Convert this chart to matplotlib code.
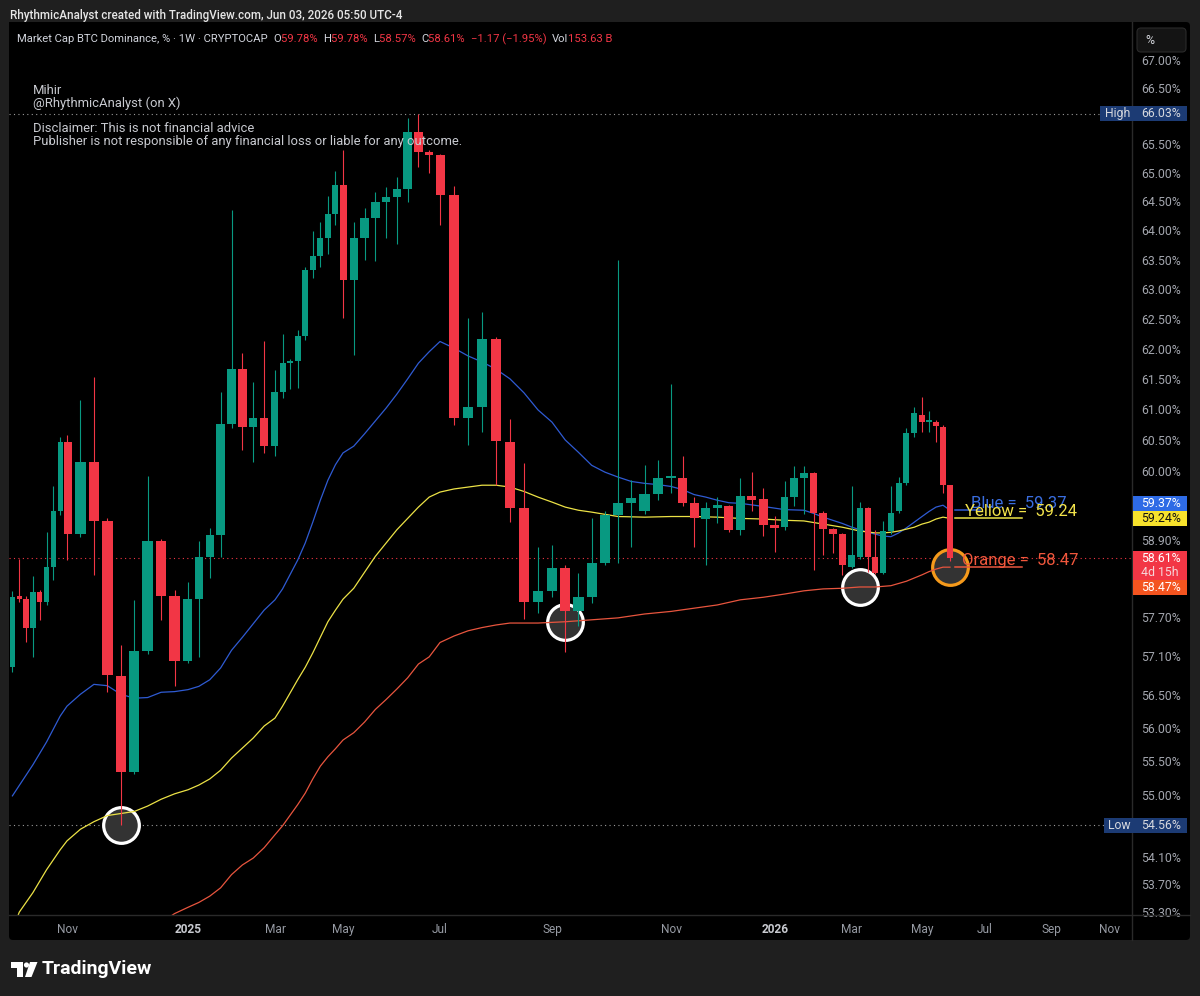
import numpy as np
import pandas as pd
import matplotlib
matplotlib.use("Agg")
import matplotlib.pyplot as plt
import matplotlib.ticker as mticker
from matplotlib.patches import Rectangle, FancyBboxPatch, Polygon, Circle
from matplotlib.lines import Line2D
from matplotlib.transforms import IdentityTransform

plt.rcParams['font.family'] = ['Roboto', 'DejaVu Sans']

# weekly candles, BTC dominance (%)
weeks = pd.date_range('2024-09-09', periods=91, freq='W-MON')
opens = [56.92, 58.02, 57.98, 57.52, 58.08, 57.92, 58.47, 59.36, 60.47, 58.99,
         60.14, 59.20, 56.79, 55.35, 57.17, 58.88, 58.02, 57.02, 57.98, 58.63,
         58.98, 60.76, 61.66, 60.71, 60.86, 60.40, 61.28, 61.76, 61.80, 62.21,
         63.32, 63.56, 63.87, 64.28, 64.78, 63.15, 63.87, 64.21, 64.49, 64.58,
         64.71, 65.71, 65.36, 65.31, 64.61, 60.86, 61.04, 62.16, 60.46, 59.40,
         57.93, 58.10, 58.46, 57.78, 58.00, 58.54, 59.30, 59.48, 59.36, 59.63,
         59.89, 59.89, 59.48, 59.23, 59.40, 59.43, 59.06, 59.60, 59.55, 59.13,
         59.10, 59.58, 59.88, 59.96, 59.33, 59.07, 58.99, 58.48, 58.63, 59.40,
         58.63, 58.38, 59.04, 59.35, 59.81, 60.61, 60.90, 60.80, 60.80, 60.71,
         59.78]
highs = [58.10, 58.60, 58.02, 58.33, 58.12, 59.02, 59.75, 60.55, 60.58, 61.15,
         61.53, 59.25, 57.26, 57.95, 59.91, 58.92, 58.12, 58.24, 58.88, 59.09,
         61.29, 64.35, 61.93, 61.45, 62.13, 61.64, 62.24, 61.83, 62.31, 63.37,
         63.99, 64.14, 64.59, 65.03, 65.39, 64.14, 64.39, 64.66, 64.75, 64.92,
         65.96, 66.03, 65.40, 65.33, 64.76, 62.51, 62.61, 62.20, 60.84, 60.12,
         58.79, 58.82, 58.51, 58.38, 59.24, 59.35, 63.49, 59.86, 60.09, 60.17,
         61.41, 60.24, 59.58, 59.50, 59.58, 59.45, 59.89, 59.98, 59.73, 59.28,
         59.84, 60.08, 60.08, 59.99, 59.35, 59.09, 59.01, 59.75, 59.50, 59.42,
         59.06, 59.20, 59.75, 59.90, 60.70, 61.03, 61.20, 60.97, 60.83, 60.75,
         59.78]
lows = [56.85, 57.93, 57.31, 57.07, 57.65, 57.88, 58.27, 59.30, 58.58, 58.95,
        58.35, 56.55, 54.56, 55.31, 57.12, 57.65, 56.63, 56.98, 57.07, 58.30,
        58.63, 60.70, 60.34, 60.14, 60.29, 60.24, 61.18, 61.33, 61.35, 62.15,
        63.18, 63.37, 63.60, 64.09, 62.51, 61.90, 63.50, 63.47, 63.87, 63.76,
        64.49, 65.10, 65.00, 64.09, 60.74, 60.42, 60.63, 59.77, 59.18, 57.67,
        57.76, 58.00, 57.16, 57.56, 57.91, 58.50, 58.54, 58.79, 59.31, 59.53,
        59.64, 59.44, 58.79, 58.51, 59.16, 59.03, 58.98, 59.36, 58.96, 58.71,
        59.05, 59.44, 59.31, 58.43, 58.66, 58.70, 58.35, 58.45, 58.60, 58.40,
        58.36, 58.36, 59.00, 59.32, 59.78, 60.55, 60.63, 60.63, 60.47, 59.65,
        58.57]
closes = [58.00, 57.97, 57.52, 58.08, 57.92, 58.47, 59.36, 60.47, 58.99, 60.14,
          59.20, 56.80, 55.35, 57.17, 58.88, 58.02, 57.02, 57.98, 58.63, 58.98,
          60.76, 61.66, 60.71, 60.86, 60.40, 61.28, 61.76, 61.80, 62.21, 63.32,
          63.56, 63.87, 64.28, 64.78, 63.15, 63.87, 64.21, 64.49, 64.58, 64.71,
          65.71, 65.36, 65.31, 64.61, 60.86, 61.04, 62.16, 60.48, 59.40, 57.93,
          58.10, 58.46, 57.78, 58.00, 58.54, 59.30, 59.48, 59.57, 59.63, 59.89,
          59.92, 59.49, 59.25, 59.40, 59.45, 59.06, 59.60, 59.53, 59.13, 59.09,
          59.58, 59.88, 59.96, 59.33, 59.07, 58.99, 58.51, 58.66, 59.40, 58.63,
          58.38, 59.04, 59.33, 59.81, 60.61, 60.94, 60.80, 60.83, 60.72, 59.78,
          58.61]

# header values of the current bar
chg_abs = -1.17
chg_pct = -1.95
volume_text = "153.63 B"

# moving averages (week index -> value)
blue_at = [0, 3, 5, 7, 8, 9, 10, 11, 12, 13, 14, 15, 16, 17, 18, 19, 20, 21, 22,
           24, 25, 26, 28, 29, 30, 31, 32, 33, 34, 35, 36, 37, 38, 39, 40, 41, 42,
           43, 44, 45, 46, 47, 48, 49, 50, 51, 52, 53, 54, 55, 56, 57, 58, 59, 60,
           61, 62, 63, 64, 65, 66, 68, 70, 72, 73, 74, 76, 77, 78, 79, 80, 81, 82,
           83, 84, 85, 86, 87, 88, 89, 90]
blue_vals = [54.99, 55.45, 55.79, 56.18, 56.33, 56.51, 56.66, 56.64, 56.51, 56.45,
             56.46, 56.54, 56.55, 56.58, 56.63, 56.73, 56.91, 57.18, 57.38,
             57.80, 57.96, 58.13, 58.58, 58.85, 59.18, 59.53, 59.85, 60.10, 60.29,
             60.40, 60.60, 60.81, 61.02, 61.25, 61.50, 61.76, 61.95,
             62.12, 62.01, 61.88, 61.78, 61.66, 61.50, 61.27, 60.99, 60.79, 60.50,
             60.30, 60.09, 59.98, 59.90, 59.83, 59.80, 59.78, 59.75,
             59.70, 59.62, 59.58, 59.53, 59.49, 59.48, 59.43, 59.38, 59.37, 59.32,
             59.26, 59.16, 59.10, 59.06, 59.02, 58.99, 58.96, 58.95,
             59.01, 59.09, 59.18, 59.27, 59.35, 59.42, 59.45, 59.37]

yellow_at = [0, 1, 3, 5, 7, 8, 9, 10, 11, 12, 13, 14, 15, 16, 17, 18, 19, 20, 21,
             22, 23, 24, 25, 26, 28, 29, 30, 31, 32, 33, 34, 35, 36, 37, 38, 39,
             40, 41, 42, 43, 44, 45, 46, 47, 48, 49, 50, 51, 52, 53, 54, 56, 58,
             60, 62, 64, 66, 68, 70, 72, 74, 76, 78, 80, 81, 82, 83, 84, 85, 86,
             87, 88, 89, 90]
yellow_vals = [53.03, 53.30, 53.58, 53.91, 54.20, 54.33, 54.50, 54.61, 54.70,
               54.73, 54.76, 54.84, 54.94, 55.02, 55.08, 55.15, 55.24, 55.37, 55.55,
               55.70, 55.85, 56.03, 56.15, 56.33, 56.73, 56.92, 57.14, 57.38, 57.62,
               57.80, 57.97, 58.14, 58.39, 58.64, 58.85, 59.06,
               59.24, 59.42, 59.58, 59.66, 59.71, 59.74, 59.77, 59.77, 59.74, 59.67,
               59.58, 59.50, 59.42, 59.37, 59.34, 59.27, 59.26,
               59.27, 59.27, 59.26, 59.24, 59.23, 59.21, 59.20, 59.15, 59.10, 59.04,
               59.01, 59.01, 59.02, 59.04, 59.07, 59.10, 59.15,
               59.18, 59.23, 59.26, 59.24]

orange_at = [15, 16, 17, 18, 19, 20, 21, 22, 23, 24, 25, 26, 28, 29, 30, 31, 32,
             33, 34, 35, 36, 37, 38, 39, 40, 41, 42, 43, 44, 45, 46, 47, 48, 50,
             52, 54, 56, 58, 60, 62, 64, 66, 68, 70, 72, 74, 76, 78, 80, 82, 84,
             85, 86, 87, 88, 89, 90]
orange_vals = [53.15, 53.28, 53.37, 53.44, 53.53, 53.65, 53.84, 53.98, 54.08,
               54.23, 54.42, 54.55, 54.86, 55.03, 55.24, 55.43, 55.57,
               55.69, 55.82, 55.93, 56.09, 56.28, 56.43, 56.59, 56.76, 56.97, 57.08,
               57.30, 57.40, 57.48, 57.53, 57.57, 57.60, 57.60,
               57.62, 57.65, 57.68, 57.74, 57.78, 57.83, 57.88, 57.96, 58.00, 58.05,
               58.10, 58.13, 58.14, 58.16, 58.16, 58.18, 58.25,
               58.30, 58.35, 58.40, 58.44, 58.47, 58.47]

price_ticks = [67.0, 66.5, 65.5, 65.0, 64.5, 64.0, 63.5, 63.0, 62.5, 62.0, 61.5,
               61.0, 60.5, 60.0, 58.9, 57.7, 57.1, 56.5, 56.0, 55.5, 55.0, 54.1,
               53.7, 53.3]

# time axis: pixel positions of the month labels (the screenshot's axis is uneven)
tick_px = [67, 188, 275, 343, 440, 552, 671, 775, 852, 922, 985, 1051, 1110]

GREEN = '#089981'
RED = '#f23645'
BLUE = '#2f5bd3'
YELLOW = '#ece246'
ORANGE = '#e8553e'
W, H = 1200, 996

# month tick positions from the weekly calendar (first bar of odd months)
all_weeks = pd.date_range(weeks[0] - pd.Timedelta(weeks=1), periods=125, freq='W-MON')
tick_idx, tick_lab = [], []
for k in range(1, len(all_weeks)):
    d, prev = all_weeks[k], all_weeks[k - 1]
    if d.month != prev.month and d.month % 2 == 1:
        tick_idx.append(k - 1)
        tick_lab.append(str(d.year) if d.month == 1 else d.strftime('%b'))
tick_idx = tick_idx[:len(tick_px)]
tick_lab = tick_lab[:len(tick_px)]

ax_left, ax_right, ax_top, ax_bot = 9, 1132, 22, 915
x_lo, x_hi = -0.5, 115
anchor_i = np.array([x_lo] + tick_idx + [x_hi], dtype=float)
anchor_p = np.array([ax_left] + tick_px + [ax_right], dtype=float)


def _lin(x, xs, ys):
    x = np.asarray(x, dtype=float)
    y = np.interp(x, xs, ys)
    s0 = (ys[1] - ys[0]) / (xs[1] - xs[0])
    s1 = (ys[-1] - ys[-2]) / (xs[-1] - xs[-2])
    y = np.where(x < xs[0], ys[0] + (x - xs[0]) * s0, y)
    y = np.where(x > xs[-1], ys[-1] + (x - xs[-1]) * s1, y)
    return y


def fwd(x):
    return _lin(x, anchor_i, anchor_p)


def inv(p):
    return _lin(p, anchor_p, anchor_i)


fig = plt.figure(figsize=(W / 100, H / 100), dpi=100, facecolor='#1f1f1f')
ax = fig.add_axes([ax_left / W, 1 - ax_bot / H, (ax_right - ax_left) / W, (ax_bot - ax_top) / H])
ax.set_facecolor('#000000')
ax.set_xscale('function', functions=(fwd, inv))
ax.set_yscale('log')
ax.set_xlim(x_lo, x_hi)
ax.set_ylim(53.26, 67.68)
for s in ax.spines.values():
    s.set_visible(False)

ID = IdentityTransform()


def P(x, y):
    # image pixel (top-down) -> display
    return (x, H - y)


# panel background
fig.add_artist(FancyBboxPatch(P(9, 940), 1181, 918, boxstyle='round,pad=0,rounding_size=4',
                              transform=ID, facecolor='#000000', edgecolor='none', zorder=-1))
fig.add_artist(Line2D([9, 1190], [H - 915, H - 915], transform=ID, color='#2a2a2a', lw=1))
fig.add_artist(Line2D([1132, 1132], [H - 22, H - 940], transform=ID, color='#2a2a2a', lw=1))

# candles
x = np.arange(len(opens))
o, h, l, c = map(np.array, (opens, highs, lows, closes))
col = np.where(c >= o, GREEN, RED)
ax.vlines(x, l, h, colors=col, lw=0.8, zorder=3)
ax.bar(x, np.maximum(np.abs(c - o), 0.015), bottom=np.minimum(o, c), width=0.78,
       color=col, lw=0, zorder=4)

# moving averages
ax.plot(blue_at, blue_vals, color=BLUE, lw=0.9, zorder=2)
ax.plot(yellow_at, yellow_vals, color=YELLOW, lw=0.9, zorder=2)
ax.plot(orange_at, orange_vals, color=ORANGE, lw=0.9, zorder=2)

# high / low / last price lines
hi_v, lo_v, last = h.max(), l.min(), c[-1]
ax.axhline(hi_v, xmax=(1100 - ax_left) / (ax_right - ax_left), color='#9a9a9a', lw=0.8,
           ls=(0, (1, 3)), zorder=1)
ax.axhline(lo_v, xmax=(1104 - ax_left) / (ax_right - ax_left), color='#9a9a9a', lw=0.8,
           ls=(0, (1, 3)), zorder=1)
ax.axhline(last, color=RED, lw=0.8, ls=(0, (1, 3)), zorder=1)

# highlight circles
circ_idx = [12, 52, 78]
circ_val = [lo_v, orange_vals[orange_at.index(52)], orange_vals[orange_at.index(78)]]
ax.scatter(circ_idx, circ_val, s=660, facecolor='#333333', edgecolor='white', lw=2.3, zorder=1.5)
ax.scatter([90], [orange_vals[-1]], s=660, facecolor='#333333', edgecolor='#f59a1b', lw=2.3,
           zorder=1.5)

# MA labels drawn on chart
ax.plot([90.7, 94.3], [blue_vals[-1]] * 2, color=BLUE, lw=1.1, zorder=5)
ax.plot([90.7, 100.0], [yellow_vals[-1]] * 2, color=YELLOW, lw=1.1, zorder=5)
ax.plot([90.7, 100.0], [orange_vals[-1]] * 2, color=ORANGE, lw=1.1, zorder=5)
ax.annotate(f"Blue =  {blue_vals[-1]:.2f}", (93.0, blue_vals[-1]), xytext=(0, -0.5),
            textcoords='offset points', color='#3a6ee0', fontsize=12, va='bottom', zorder=6)
ax.annotate(f"Yellow =  {yellow_vals[-1]:.2f}", (92.2, yellow_vals[-1]), xytext=(0, -0.5),
            textcoords='offset points', color='#f2e34b', fontsize=12, va='bottom', zorder=7)
ax.annotate(f"Orange =  {orange_vals[-1]:.2f}", (91.7, orange_vals[-1]), xytext=(0, -0.5),
            textcoords='offset points', color='#f0573c', fontsize=12, va='bottom', zorder=6)

# axes ticks
ax.yaxis.tick_right()
ax.set_yticks(price_ticks)
ax.set_yticklabels([f"{t:.2f}%" for t in price_ticks])
ax.yaxis.set_minor_locator(mticker.NullLocator())
ax.tick_params(axis='y', length=0, pad=6.5, labelsize=8.8, labelcolor='#a3a6ae')
ax.set_xticks(tick_idx)
ax.set_xticklabels(tick_lab)
ax.xaxis.set_minor_locator(mticker.NullLocator())
ax.tick_params(axis='x', length=0, pad=5.5, labelsize=8.6, labelcolor='#969aa3')
for t in ax.get_xticklabels():
    if t.get_text().isdigit():
        t.set_fontweight('bold')
        t.set_color('#c8cad0')

fig.canvas.draw()


def py(v):
    return ax.transData.transform((0, v))[1]


def price_box(v, color, text, tcolor, shift=0, x0=1133):
    yc = py(v) + shift
    fig.add_artist(Rectangle((x0, yc - 7.5), 1187 - x0, 15, transform=ID, facecolor=color,
                             edgecolor='none', zorder=5))
    fig.text(1141, yc, text, transform=ID, color=tcolor, fontsize=8.8, va='center', zorder=6)


price_box(hi_v, '#1c3b74', f"{hi_v:.2f}%", '#d6d8de', x0=1100)
fig.text(1105, py(hi_v), "High", transform=ID, color='#d6d8de', fontsize=8.8, va='center', zorder=6)
price_box(lo_v, '#1c3b74', f"{lo_v:.2f}%", '#d6d8de', x0=1104)
fig.text(1108, py(lo_v), "Low", transform=ID, color='#d6d8de', fontsize=8.8, va='center', zorder=6)
price_box(blue_vals[-1], '#2e6be6', f"{blue_vals[-1]:.2f}%", 'white', shift=7)
price_box(yellow_vals[-1], '#f7e22c', f"{yellow_vals[-1]:.2f}%", '#111111', shift=0)
yl = py(last)
fig.add_artist(Rectangle((1133, yl - 22), 54, 29.5, transform=ID, facecolor=RED,
                         edgecolor='none', zorder=5))
fig.text(1141, yl, f"{last:.2f}%", transform=ID, color='white', fontsize=8.8, va='center', zorder=6)
fig.text(1141, yl - 14, "4d 15h", transform=ID, color='#f6d6da', fontsize=8.8, va='center', zorder=6)
price_box(orange_vals[-1], '#f4541f', f"{orange_vals[-1]:.2f}%", 'white', shift=-20)

# % button
fig.add_artist(FancyBboxPatch(P(1137, 52), 49, 24, boxstyle='round,pad=0,rounding_size=4',
                              transform=ID, facecolor='#141414', edgecolor='#2a2a2a', lw=0.8,
                              zorder=5))
fig.text(*P(1145, 40), "%", transform=ID, color='#d6d8de', fontsize=8.8, va='center', zorder=6)

# header texts
fig.text(*P(10, 15), "RhythmicAnalyst created with TradingView.com, Jun 03, 2026 05:50 UTC-4",
         transform=ID, color='#e6e6e6', fontsize=8.4, fontweight='medium', va='center')

minus = lambda s: s.replace('-', '\u2212')
pieces = [("Market Cap BTC Dominance, % · 1W · CRYPTOCAP  ", '#d1d4dc'),
          ("O", '#d1d4dc'), (f"{o[-1]:.2f}%  ", RED),
          ("H", '#d1d4dc'), (f"{h[-1]:.2f}%  ", RED),
          ("L", '#d1d4dc'), (f"{l[-1]:.2f}%  ", RED),
          ("C", '#d1d4dc'), (f"{c[-1]:.2f}%  ", RED),
          (minus(f"{chg_abs:+.2f} ({chg_pct:+.2f}%)  "), RED),
          ("Vol", '#d1d4dc'), (volume_text, RED)]
prev = fig.text(*P(17, 39), pieces[0][0], transform=ID, color=pieces[0][1], fontsize=8.15,
                va='center')
for s, cc in pieces[1:]:
    prev = ax.annotate(s, xy=(1, 0.5), xycoords=prev, va='center', ha='left', color=cc,
                       fontsize=8.15, annotation_clip=False)

note_col = '#c8cad0'
fig.text(*P(33, 90), "Mihir", transform=ID, color=note_col, fontsize=9.4, va='center')
fig.text(*P(33, 103), "@RhythmicAnalyst (on X)", transform=ID, color=note_col, fontsize=9.4,
         va='center')
fig.text(*P(33, 128), "Disclaimer: This is not financial advice", transform=ID, color=note_col,
         fontsize=9.4, va='center')
fig.text(*P(33, 141), "Publisher is not responsible of any financial loss or liable for any outcome.",
         transform=ID, color=note_col, fontsize=9.4, va='center')

# TradingView logo
fig.add_artist(Polygon([P(11, 962), P(23, 962), P(23, 977), P(17, 977), P(17, 968), P(11, 968)],
                       closed=True, transform=ID, facecolor='white', edgecolor='none'))
fig.add_artist(Circle(P(26.5, 965), 2.6, transform=ID, facecolor='white', edgecolor='none'))
fig.add_artist(Polygon([P(30, 962), P(37.5, 962), P(31.5, 977), P(25, 977)], closed=True,
                       transform=ID, facecolor='white', edgecolor='none'))
fig.text(*P(42, 969), "TradingView", transform=ID, color='white', fontsize=14,
         fontweight='bold', va='center')

fig.savefig('out.png', dpi=100, facecolor=fig.get_facecolor())
